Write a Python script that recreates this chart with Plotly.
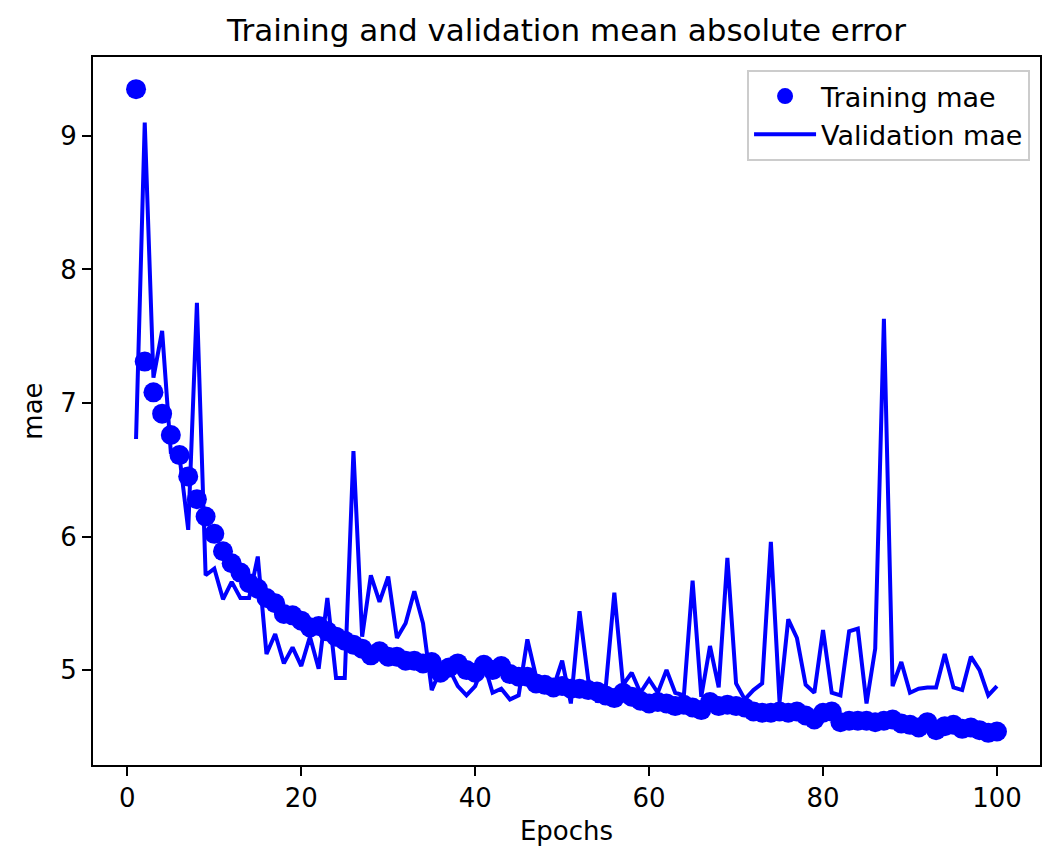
import plotly.graph_objects as go

epochs = list(range(1, 101))

training_mae = [
    9.35, 7.31, 7.08, 6.92, 6.76, 6.61, 6.45, 6.28, 6.15, 6.02,
    5.89, 5.80, 5.73, 5.65, 5.61, 5.54, 5.50, 5.42, 5.41, 5.37,
    5.32, 5.33, 5.29, 5.25, 5.22, 5.19, 5.16, 5.11, 5.14, 5.10,
    5.10, 5.07, 5.07, 5.05, 5.06, 4.98, 5.02, 5.05, 5.00, 4.98,
    5.04, 5.00, 5.03, 4.97, 4.95, 4.95, 4.90, 4.89, 4.87, 4.88,
    4.86, 4.86, 4.85, 4.84, 4.81, 4.79, 4.83, 4.80, 4.77, 4.75,
    4.76, 4.75, 4.73, 4.74, 4.72, 4.70, 4.76, 4.73, 4.74, 4.73,
    4.72, 4.69, 4.68, 4.68, 4.69, 4.68, 4.69, 4.66, 4.63, 4.68,
    4.69, 4.61, 4.62, 4.62, 4.62, 4.61, 4.62, 4.63, 4.60, 4.59,
    4.57, 4.61, 4.55, 4.58, 4.59, 4.56, 4.57, 4.55, 4.53, 4.54,
]

validation_mae = [
    6.73, 9.10, 7.19, 7.54, 6.63, 6.60, 6.05, 7.75, 5.71, 5.76,
    5.53, 5.66, 5.54, 5.54, 5.85, 5.12, 5.27, 5.05, 5.17, 5.03,
    5.25, 5.01, 5.54, 4.94, 4.94, 6.64, 5.25, 5.71, 5.51, 5.70,
    5.24, 5.35, 5.59, 5.35, 4.85, 5.00, 5.01, 4.88, 4.81, 4.88,
    5.05, 4.83, 4.86, 4.78, 4.81, 5.23, 4.95, 4.90, 4.87, 5.07,
    4.75, 5.44, 4.93, 4.76, 4.86, 5.58, 4.89, 4.98, 4.83, 4.93,
    4.83, 5.00, 4.83, 4.81, 5.67, 4.80, 5.18, 4.87, 5.84, 4.90,
    4.78, 4.85, 4.90, 5.96, 4.76, 5.38, 5.24, 4.89, 4.83, 5.30,
    4.83, 4.81, 5.29, 5.31, 4.75, 5.16, 7.63, 4.88, 5.06, 4.83,
    4.86, 4.87, 4.87, 5.12, 4.87, 4.85, 5.10, 5.00, 4.81, 4.88,
]

x_ticks = [0, 20, 40, 60, 80, 100]
y_ticks = [5, 6, 7, 8, 9]

FONT = "DejaVu Sans"
BLUE = "#0000ff"


def auto_range(values):
    lo, hi = min(values), max(values)
    pad = 0.05 * (hi - lo)
    return [lo - pad, hi + pad]


fig = go.Figure()
fig.add_trace(go.Scatter(
    x=epochs, y=training_mae, mode="markers", name="Training mae",
    marker=dict(color=BLUE, size=20, line=dict(width=0)),
))
fig.add_trace(go.Scatter(
    x=epochs, y=validation_mae, mode="lines", name="Validation mae",
    line=dict(color=BLUE, width=4),
))

axis_common = dict(
    showline=True, linecolor="black", linewidth=2, mirror=True,
    ticks="outside", ticklen=9, tickwidth=2, tickcolor="black",
    showgrid=False, zeroline=False,
    tickfont=dict(family=FONT, size=26, color="black"),
)

fig.update_layout(
    width=1043, height=846,
    margin=dict(l=93, r=1, t=57, b=81),
    plot_bgcolor="white", paper_bgcolor="white",
    title=dict(
        text="Training and validation mean absolute error",
        font=dict(family=FONT, size=31, color="black"),
        x=0.5, xref="paper", y=1 - 30 / 846, yref="container",
        xanchor="center", yanchor="middle",
    ),
    xaxis=dict(
        range=auto_range(epochs), tickvals=x_ticks,
        title=dict(text="Epochs", font=dict(family=FONT, size=26, color="black"), standoff=10),
        **axis_common,
    ),
    yaxis=dict(
        range=auto_range(training_mae + validation_mae), tickvals=y_ticks,
        title=dict(text="mae", font=dict(family=FONT, size=26, color="black"), standoff=10),
        **axis_common,
    ),
    legend=dict(
        x=0.9895, y=0.9816, xanchor="right", yanchor="top",
        bgcolor="rgba(255,255,255,0.8)", bordercolor="#cccccc", borderwidth=2,
        font=dict(family=FONT, size=27, color="black"),
        itemwidth=62, tracegroupgap=0,
    ),
    showlegend=True,
)

fig.write_html("out.html")
